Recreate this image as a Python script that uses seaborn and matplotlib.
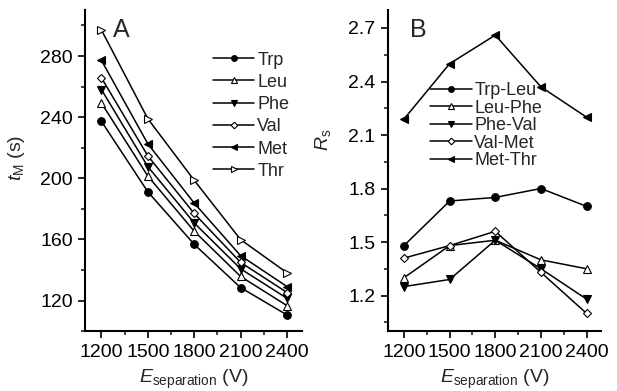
import matplotlib
matplotlib.use("Agg")
import matplotlib.pyplot as plt
from matplotlib.ticker import MultipleLocator
import seaborn as sns

# data
voltage = [1200, 1500, 1800, 2100, 2400]

amino = ["Trp", "Leu", "Phe", "Val", "Met", "Thr"]
t_trp = [237.3, 191.2, 156.8, 128.5, 110.6]
t_leu = [249.3, 201.5, 165.4, 135.8, 116.7]
t_phe = [258.1, 207.7, 170.8, 140.8, 121.5]
t_val = [265.8, 214.7, 177.0, 145.0, 125.3]
t_met = [277.2, 222.6, 183.8, 149.4, 129.2]
t_thr = [297.1, 239.0, 198.7, 159.9, 138.2]

pairs = ["Trp-Leu", "Leu-Phe", "Phe-Val", "Val-Met", "Met-Thr"]
rs_trp_leu = [1.48, 1.73, 1.75, 1.80, 1.70]
rs_leu_phe = [1.30, 1.48, 1.51, 1.40, 1.35]
rs_phe_val = [1.25, 1.29, 1.51, 1.35, 1.18]
rs_val_met = [1.41, 1.48, 1.56, 1.33, 1.10]
rs_met_thr = [2.19, 2.50, 2.66, 2.37, 2.20]

sns.set_style("ticks")
plt.rcParams["font.family"] = ["Liberation Sans", "DejaVu Sans"]
plt.rcParams["mathtext.fontset"] = "custom"
plt.rcParams["mathtext.rm"] = "Liberation Sans"
plt.rcParams["mathtext.it"] = "Liberation Sans:italic"

markers = [("o", "black"), ("^", "white"), ("v", "black"),
           ("D", "white"), ("<", "black"), (">", "white")]

fig = plt.figure(figsize=(6.17, 3.91), dpi=100)
axA = fig.add_axes([0.138, 0.153, 0.351, 0.821])
axB = fig.add_axes([0.629, 0.153, 0.345, 0.821])


def draw(ax, series, labels):
    for vals, lab, (m, fc) in zip(series, labels, markers):
        ms = 4.5 if m == "D" else 5.5
        sns.lineplot(x=voltage, y=vals, ax=ax, color="black", lw=1.1,
                     marker=m, markersize=ms, markerfacecolor=fc,
                     markeredgecolor="black", markeredgewidth=0.8, label=lab)


draw(axA, [t_trp, t_leu, t_phe, t_val, t_met, t_thr], amino)
draw(axB, [rs_trp_leu, rs_leu_phe, rs_phe_val, rs_val_met, rs_met_thr], pairs)

for ax in (axA, axB):
    sns.despine(ax=ax)
    ax.set_xlim(1095, 2495)
    ax.set_xticks(voltage)
    ax.xaxis.set_minor_locator(MultipleLocator(150))
    ax.tick_params(which="major", direction="out", length=5, width=1.2,
                   labelsize=14, colors="black", pad=4)
    ax.tick_params(which="minor", direction="out", length=3, width=1.2)
    for s in ("left", "bottom"):
        ax.spines[s].set_linewidth(1.5)
        ax.spines[s].set_color("black")
    ax.set_xlabel(r"$E_{\mathrm{separation}}$ (V)", fontsize=14, labelpad=5)

axA.set_ylim(100, 310)
axA.set_yticks([120, 160, 200, 240, 280])
axA.yaxis.set_minor_locator(MultipleLocator(20))
axA.set_ylabel(r"$t_{\mathrm{M}}$ (s)", fontsize=14)
axA.yaxis.set_label_coords(-0.27, 0.54)

axB.set_ylim(1.0, 2.8)
axB.set_yticks([1.2, 1.5, 1.8, 2.1, 2.4, 2.7])
axB.yaxis.set_minor_locator(MultipleLocator(0.15))
axB.set_ylabel(r"$R_{\mathrm{s}}$", fontsize=14)
axB.yaxis.set_label_coords(-0.26, 0.595)

axA.legend(loc="upper left", bbox_to_anchor=(0.59, 0.871), frameon=False,
           fontsize=13, handlelength=2.3, handletextpad=0.15,
           borderpad=0, borderaxespad=0, labelspacing=0.29, markerscale=0.75)
axB.legend(loc="upper left", bbox_to_anchor=(0.197, 0.776), frameon=False,
           fontsize=13, handlelength=2.3, handletextpad=0.15,
           borderpad=0, borderaxespad=0, labelspacing=0.03, markerscale=0.75)

axA.text(0.13, 0.975, "A", transform=axA.transAxes, fontsize=18, va="top")
axB.text(0.103, 0.975, "B", transform=axB.transAxes, fontsize=18, va="top")

fig.savefig("out.png", dpi=100)
